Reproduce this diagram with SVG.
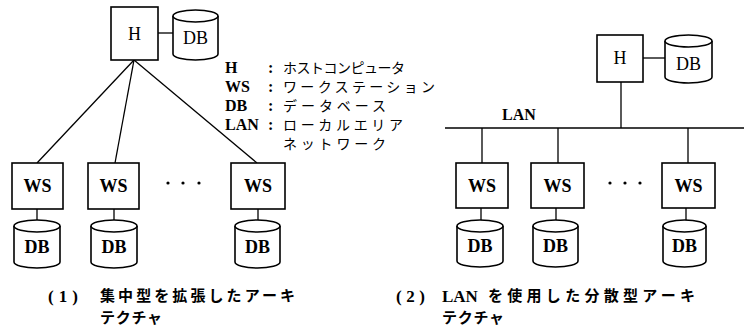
<svg xmlns="http://www.w3.org/2000/svg" width="744" height="330" viewBox="0 0 744 330">
<style>
.box{fill:#fff;stroke:#000;stroke-width:1.6}
.cyl{fill:#fff;stroke:#000;stroke-width:1.6}
.ln{stroke:#000;stroke-width:1.3;fill:none}
.lbl{font-family:"Liberation Serif","DejaVu Serif",serif;font-size:18px;text-anchor:middle;fill:#000}
.b{font-weight:bold}
.lg{font-family:"Liberation Serif","DejaVu Serif",serif;font-size:16px;font-weight:bold;fill:#000}
.jp{font-family:"Noto Sans CJK JP","Noto Sans",sans-serif;font-size:14px;fill:#000}
.cap{font-family:"Noto Sans CJK JP","Noto Sans",sans-serif;font-size:15px;font-weight:bold;fill:#000}
.capn{font-family:"Liberation Serif","DejaVu Serif",serif;font-size:17px;font-weight:bold;fill:#000}
.dot{fill:#000}
</style>
<rect width="744" height="330" fill="#fff"/>
<g id="connectors">
<line class="ln" x1="158" y1="33" x2="173" y2="33"/>
<line class="ln" x1="134" y1="60" x2="37" y2="163"/>
<line class="ln" x1="134" y1="60" x2="115" y2="163"/>
<line class="ln" x1="134" y1="60" x2="257" y2="163"/>
<line class="ln" x1="37" y1="209" x2="37" y2="226"/>
<line class="ln" x1="114" y1="209" x2="114" y2="226"/>
<line class="ln" x1="258" y1="209" x2="258" y2="226"/>
<line class="ln" x1="643" y1="58" x2="665" y2="58"/>
<line class="ln" x1="621" y1="82" x2="621" y2="128"/>
<line class="ln" x1="445" y1="128" x2="744" y2="128" stroke-width="1.6"/>
<line class="ln" x1="482" y1="128" x2="482" y2="163"/>
<line class="ln" x1="558" y1="128" x2="558" y2="163"/>
<line class="ln" x1="688" y1="128" x2="688" y2="163"/>
<line class="ln" x1="481" y1="208" x2="481" y2="226"/>
<line class="ln" x1="556" y1="208" x2="556" y2="226"/>
<line class="ln" x1="686" y1="208" x2="686" y2="226"/>
</g>
<g id="H1">
<rect class="box" x="111" y="7" width="47" height="53"/>
<text class="lbl" x="134.5" y="40">H</text>
</g>
<g id="DBH1">
<path class="cyl" d="M173,16 V54 A22.5,6 0 0 0 218,54 V16"/>
<ellipse class="cyl" cx="195.5" cy="16" rx="22.5" ry="6"/>
<text class="lbl" x="195.5" y="44">DB</text>
</g>
<g id="WS1a"><rect class="box" x="12" y="163" width="51" height="46"/><text class="lbl b" x="37.5" y="192">WS</text></g>
<g id="WS1b"><rect class="box" x="88" y="163" width="51" height="46"/><text class="lbl b" x="113.5" y="192">WS</text></g>
<g id="WS1c"><rect class="box" x="231" y="163" width="54" height="46"/><text class="lbl b" x="258" y="192">WS</text></g>
<g id="dots1"><circle class="dot" cx="168" cy="183" r="1.6"/><circle class="dot" cx="183" cy="183" r="1.6"/><circle class="dot" cx="199" cy="183" r="1.6"/></g>
<g id="DB1a"><path class="cyl" d="M14,226 V262 A23,6 0 0 0 60,262 V226"/><ellipse class="cyl" cx="37" cy="226" rx="23" ry="6"/><text class="lbl b" x="37" y="253">DB</text></g>
<g id="DB1b"><path class="cyl" d="M91,226 V262 A23,6 0 0 0 137,262 V226"/><ellipse class="cyl" cx="114" cy="226" rx="23" ry="6"/><text class="lbl b" x="114" y="253">DB</text></g>
<g id="DB1c"><path class="cyl" d="M235,226 V262 A22.5,6 0 0 0 280,262 V226"/><ellipse class="cyl" cx="257.5" cy="226" rx="22.5" ry="6"/><text class="lbl b" x="257.5" y="253">DB</text></g>
<g id="legend">
<text class="lg" x="225" y="73">H</text>
<text class="lg" x="225" y="92">WS</text>
<text class="lg" x="225" y="111">DB</text>
<text class="lg" x="225" y="130">LAN</text>
<text class="lg" x="268" y="73">:</text>
<text class="lg" x="268" y="92">:</text>
<text class="lg" x="268" y="111">:</text>
<text class="lg" x="268" y="130">:</text>
<text class="jp" x="283" y="73" textLength="122">ホストコンピュータ</text>
<text class="jp" x="283" y="92" textLength="152">ワークステーション</text>
<text class="jp" x="283" y="111" textLength="103">データベース</text>
<text class="jp" x="283" y="130" textLength="120">ローカルエリア</text>
<text class="jp" x="283" y="149" textLength="103">ネットワーク</text>
</g>
<g id="H2">
<rect class="box" x="597" y="35" width="46" height="47"/>
<text class="lbl" x="620" y="64">H</text>
</g>
<g id="DBH2">
<path class="cyl" d="M665,41 V77 A23.5,6 0 0 0 712,77 V41"/>
<ellipse class="cyl" cx="688.5" cy="41" rx="23.5" ry="6"/>
<text class="lbl" x="688.5" y="70">DB</text>
</g>
<text class="lg" x="502" y="120" font-size="15">LAN</text>
<g id="WS2a"><rect class="box" x="456" y="163" width="52" height="45"/><text class="lbl b" x="482" y="192">WS</text></g>
<g id="WS2b"><rect class="box" x="531" y="163" width="53" height="45"/><text class="lbl b" x="557.5" y="192">WS</text></g>
<g id="WS2c"><rect class="box" x="662" y="163" width="53" height="45"/><text class="lbl b" x="688.5" y="192">WS</text></g>
<g id="dots2"><circle class="dot" cx="610" cy="183" r="1.6"/><circle class="dot" cx="625" cy="183" r="1.6"/><circle class="dot" cx="640" cy="183" r="1.6"/></g>
<g id="DB2a"><path class="cyl" d="M457,226 V261 A23,6 0 0 0 503,261 V226"/><ellipse class="cyl" cx="480" cy="226" rx="23" ry="6"/><text class="lbl b" x="480" y="252">DB</text></g>
<g id="DB2b"><path class="cyl" d="M533,226 V261 A22.5,6 0 0 0 578,261 V226"/><ellipse class="cyl" cx="555.5" cy="226" rx="22.5" ry="6"/><text class="lbl b" x="555.5" y="252">DB</text></g>
<g id="DB2c"><path class="cyl" d="M663,226 V261 A21.5,6 0 0 0 706,261 V226"/><ellipse class="cyl" cx="684.5" cy="226" rx="21.5" ry="6"/><text class="lbl b" x="684.5" y="252">DB</text></g>
<g id="captions">
<text class="capn" x="48" y="302" textLength="30">(1)</text>
<text class="cap" x="100" y="301" textLength="195">集中型を拡張したアーキ</text>
<text class="cap" x="100" y="323" textLength="62">テクチャ</text>
<text class="capn" x="396" y="302" textLength="29">(2)</text>
<text class="capn" x="442" y="302">LAN</text>
<text class="cap" x="488" y="301" textLength="207">を使用した分散型アーキ</text>
<text class="cap" x="442" y="323" textLength="62">テクチャ</text>
</g>
</svg>
